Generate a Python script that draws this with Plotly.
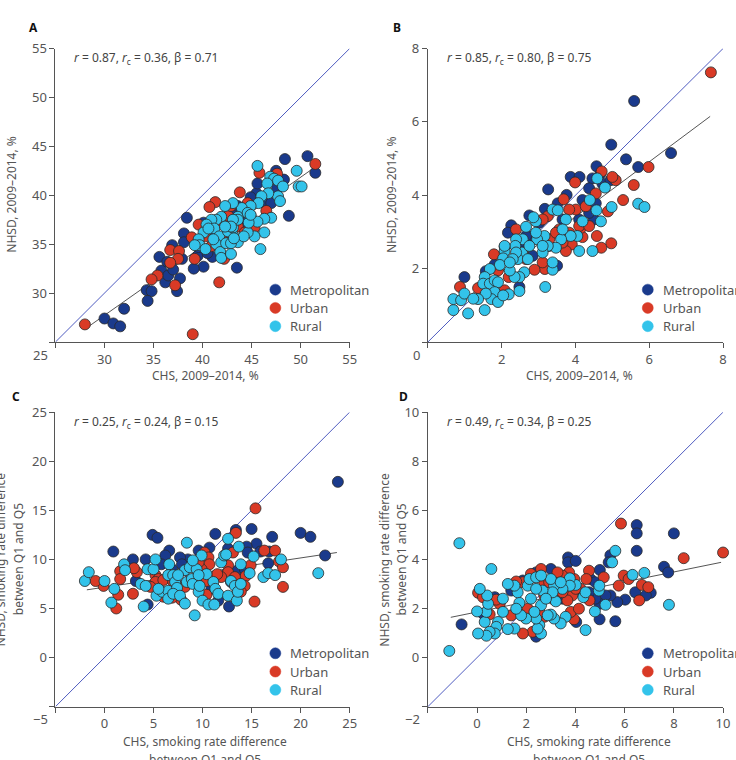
import plotly.graph_objects as go

# ---------------- Data ----------------
groups = ["Metropolitan", "Urban", "Rural"]
colors = {"Metropolitan": "#1a3a8c", "Urban": "#d93a26", "Rural": "#33c3ea"}

# Panel A: CHS vs NHSD 2009-2014 (%)
a_metro_x = [50.7,48.4,51.5,47.5,48.3,48.8,45.5,44.9,43.5,41.0,40.1,39.1,38.4,38.1,38.1,37.9,37.7,36.9,35.6,35.8,36.4,36.2,36.5,37.0,37.4,34.3,34.8,34.4,32.0,30.0,30.9,31.6,39.5,40.1,40.5,39.6,41.3,42.9,43.6,46.3,47.0,45.6,47.6,42.6,44.3]
a_metro_y = [44.0,43.7,42.3,42.5,41.6,37.9,40.2,39.8,32.6,33.7,32.7,32.5,37.7,36.1,35.2,33.5,31.5,34.9,33.7,32.3,33.2,31.1,31.8,32.4,30.2,30.3,30.2,29.2,28.4,27.4,26.9,26.6,33.8,37.2,34.1,34.7,35.8,38.2,38.9,39.2,39.2,41.2,40.7,35.4,37.2]
a_urban_x = [51.5,45.8,47.6,43.8,41.3,40.7,46.5,45.3,44.9,42.9,42.6,39.6,38.9,41.7,39.0,36.7,37.6,37.5,36.7,37.2,35.4,34.8,28.0,40.9,42.2,43.6,44.3,40.3,41.6,42.9,44.6,42.2,39.2,43.0]
a_urban_y = [43.2,42.3,42.2,40.3,39.3,38.8,38.4,36.7,37.9,37.5,37.9,37.0,35.7,31.1,25.8,34.4,34.3,33.5,33.1,30.8,31.8,31.4,26.8,34.8,35.5,36.8,36.2,35.8,37.2,38.9,39.2,33.5,33.5,35.9]
a_rural_x = [45.6,49.6,49.8,50.1,46.9,47.3,46.6,47.7,47.7,48.2,47.9,46.7,46.0,45.7,44.9,47.0,46.3,45.6,45.9,46.3,45.3,44.6,44.0,43.6,43.1,42.3,41.9,41.4,40.9,40.4,40.1,39.6,39.7,40.3,41.2,41.7,41.4,41.8,41.9,42.9,43.1,42.6,43.1,43.6,44.2,43.6,43.1,44.7,42.9,42.3,42.4,41.1,40.6,39.2,42.9,43.2,44.6,44.9]
a_rural_y = [43.0,42.5,40.9,40.9,41.9,41.7,41.2,41.5,39.9,40.9,39.4,40.2,39.9,39.2,38.9,37.7,37.6,37.3,34.5,36.2,35.8,36.2,38.7,37.8,39.2,38.9,37.8,37.5,37.5,37.0,36.2,35.5,34.9,34.5,36.6,35.8,35.0,34.2,33.6,34.0,35.9,36.3,36.7,35.2,35.8,37.5,37.5,37.2,36.8,36.8,35.1,35.5,36.6,34.9,35.1,35.6,38.2,38.0]
a_fit_x = [28.4, 51.5]
a_fit_y = [26.6, 42.9]

# Panel B
b_metro_x = [5.59,4.97,6.59,5.37,5.70,4.57,3.26,3.87,4.11,4.68,4.46,0.99,1.57,1.81,2.08,2.26,2.17,2.75,3.17,2.48,3.50,3.76,3.52,3.65,4.19,4.37,4.55,4.73,4.50,4.10,2.84,3.02,3.29,2.48,2.84,2.66,4.95,4.37]
b_metro_y = [6.57,5.38,5.15,4.98,4.77,4.79,4.16,4.50,4.50,4.59,4.46,1.77,1.93,2.11,2.60,3.18,2.98,3.45,3.63,1.50,2.08,4.01,3.78,3.34,3.87,4.19,3.78,4.32,3.34,3.34,2.89,3.25,2.62,2.62,2.35,2.89,4.41,3.52]
b_urban_x = [7.67,5.98,5.58,5.29,5.09,5.00,4.71,3.99,3.68,4.88,4.97,4.70,4.58,4.19,4.15,3.90,3.74,3.17,2.89,2.57,1.79,0.87,1.36,2.08,2.19,1.90,2.39,3.25,4.01,4.28,4.10,3.56,3.83,3.29,3.11,3.65,3.47,2.66,4.37,4.55,3.83,3.11]
b_urban_y = [7.35,4.77,4.28,3.87,4.41,4.50,4.65,4.35,3.89,3.56,2.69,2.57,2.89,2.86,3.11,2.66,2.48,1.99,1.97,2.44,2.39,1.50,1.47,1.41,1.77,1.95,3.07,3.43,3.61,3.70,3.16,3.07,2.98,2.80,2.17,2.71,2.98,2.26,3.16,4.05,3.61,3.34]
b_rural_x = [5.70,5.87,4.98,4.80,4.59,4.39,4.57,4.69,4.46,4.10,4.19,4.05,3.87,3.74,3.61,3.47,3.65,3.38,3.52,3.18,3.38,3.38,3.25,3.11,3.16,2.96,2.93,2.86,2.66,2.57,2.55,2.44,2.39,2.37,2.39,2.61,2.48,2.35,2.48,2.22,2.19,2.08,2.04,1.95,2.08,1.68,1.54,1.50,1.68,1.81,1.90,1.81,1.72,1.90,1.57,1.36,1.54,1.09,0.69,0.69,0.90,0.99,1.23,2.04,2.75,2.93,3.11,2.30,2.22,2.71]
b_rural_y = [3.77,3.68,3.68,4.21,4.46,3.87,3.59,3.29,2.48,2.48,3.29,2.89,2.89,3.34,2.80,2.57,3.07,3.61,3.59,1.50,1.97,2.17,2.62,2.44,2.89,2.80,3.29,3.40,3.14,2.80,2.44,2.26,2.80,2.62,2.44,1.90,1.77,1.77,1.39,1.95,1.30,2.48,2.28,2.10,2.62,1.99,1.77,1.59,1.59,1.68,1.63,1.36,1.17,1.09,1.32,1.17,0.87,0.78,0.87,1.17,1.14,1.32,1.18,1.27,2.62,2.98,2.62,2.26,2.17,2.26]
b_fit_x = [0.7, 7.65]
b_fit_y = [0.94, 6.15]

# Panel C
c_metro_x = [23.8,20.0,21.0,22.5,17.1,16.7,15.0,15.5,13.4,12.6,11.3,10.7,14.5,14.6,15.9,16.8,13.6,14.3,12.7,11.6,9.6,8.5,7.7,7.9,6.6,6.2,4.9,5.4,4.2,2.9,0.9,3.2,4.4,5.8,10.2,12.3,9.6,6.9,10.9,12.9]
c_metro_y = [17.9,12.7,12.3,10.4,12.3,9.6,13.1,11.6,13.0,11.1,12.6,11.2,11.3,10.7,10.8,10.8,8.9,9.0,5.2,5.8,10.9,10.0,10.2,9.5,10.9,10.4,12.5,12.2,10.0,10.0,10.8,7.8,5.4,9.5,8.0,8.4,9.0,9.0,7.0,7.7]
c_urban_x = [15.4,13.4,13.1,16.3,17.4,17.8,18.2,18.2,15.3,14.9,14.4,14.3,13.9,12.6,12.6,11.9,13.3,10.2,10.6,10.7,9.9,10.4,10.4,8.2,7.5,7.8,6.9,6.0,5.2,5.5,5.2,6.0,4.7,3.3,3.0,1.6,1.6,1.4,2.9,1.2,-0.1,-0.9,7.0,9.2,9.6,11.5]
c_urban_y = [15.2,12.7,10.7,10.9,10.9,9.8,9.2,7.2,5.7,9.4,8.3,7.3,6.7,9.4,8.7,8.2,8.2,10.7,10.2,9.5,9.0,7.8,6.4,7.2,6.3,5.9,6.1,6.2,8.4,8.0,7.7,7.9,7.2,8.7,9.1,8.8,8.0,6.4,6.5,5.0,7.3,7.8,7.7,7.7,9.7,8.5]
c_rural_x = [-2.0,-1.6,0.0,1.0,0.7,2.0,2.1,3.7,4.2,4.0,4.4,5.0,5.2,5.3,5.9,6.6,6.5,6.5,6.5,7.0,7.2,7.4,7.0,7.7,8.4,8.2,8.4,8.2,8.7,8.9,9.0,9.2,9.4,9.6,9.7,9.9,10.0,10.4,10.6,11.1,11.2,11.3,11.6,11.9,12.2,12.4,12.6,12.6,12.9,13.3,13.5,13.6,13.7,13.9,13.9,14.8,15.2,16.2,16.7,17.4,18.0,21.8,9.6,9.0,7.5,5.5]
c_rural_y = [7.8,8.7,7.8,7.0,5.6,9.5,8.9,7.5,7.3,5.2,9.0,9.0,10.0,6.3,6.7,9.5,8.4,6.8,6.0,8.4,7.7,7.1,6.5,6.3,11.7,8.9,7.7,5.5,9.2,8.0,7.5,4.3,9.0,6.7,7.3,10.4,5.8,8.5,5.4,7.7,5.4,7.0,6.5,9.7,10.4,10.5,12.1,6.3,7.8,7.3,5.8,6.7,11.3,7.5,9.5,8.6,10.3,8.2,8.6,8.4,10.0,8.6,8.4,9.9,8.4,7.0]
c_fit_x = [-1.8, 23.7]
c_fit_y = [6.9, 10.7]

# Panel D
d_metro_x = [8.0,6.49,6.49,6.49,7.60,7.77,3.70,3.70,4.01,5.42,5.35,4.99,7.06,6.86,6.43,6.02,5.70,5.62,5.42,5.22,4.98,4.98,4.81,4.55,4.61,4.34,4.03,3.00,2.40,2.40,1.86,1.39,0.72,0.24,-0.63,3.20,3.47,4.81]
d_metro_y = [5.06,5.40,5.06,4.35,3.70,3.47,4.08,3.88,3.94,4.17,3.88,3.57,2.64,2.53,2.66,2.36,2.26,1.48,2.53,2.53,2.19,1.56,2.40,2.66,3.20,2.53,1.45,3.61,0.85,3.47,3.14,2.73,2.46,1.79,1.35,3.07,2.40,3.07]
d_urban_x = [10.0,8.40,5.85,5.96,6.16,5.76,6.70,6.96,6.59,5.15,4.55,4.44,4.57,4.21,3.95,3.74,3.47,3.27,2.60,2.19,1.86,1.59,2.73,2.73,2.73,2.53,2.26,1.86,2.06,3.87,3.67,3.94,3.81,4.14,1.39,0.92,0.78,0.51,0.04,0.24,3.34,3.07,4.01,2.93,3.47]
d_urban_y = [4.28,4.05,5.46,3.34,3.20,2.93,2.96,2.87,2.33,3.27,3.54,3.20,2.33,2.80,3.20,3.47,3.34,3.47,3.61,3.41,3.07,3.10,3.07,2.53,1.66,1.86,1.05,0.98,1.99,2.53,2.33,1.56,1.86,1.99,1.72,2.19,2.36,1.76,2.64,2.46,2.66,2.40,2.80,3.07,2.66]
d_rural_x = [-0.72,0.58,-1.13,5.62,5.49,6.80,6.32,7.80,4.95,4.97,4.79,5.22,4.41,4.32,4.01,3.77,3.77,3.47,3.60,3.40,3.13,3.00,3.20,3.13,3.00,3.07,2.66,2.60,2.53,2.60,2.46,2.40,2.33,2.19,2.06,1.99,1.79,1.72,1.65,1.52,1.25,1.59,1.52,1.25,1.05,1.05,0.85,0.78,0.72,0.51,0.38,0.04,0.31,0.38,0.45,0.41,0.11,0.00,2.13,2.40,2.60,2.40,2.80,3.40,2.87,4.41]
d_rural_y = [4.66,3.61,0.27,4.35,3.88,3.45,3.37,2.15,2.73,2.93,1.88,2.15,1.12,2.46,2.96,3.23,2.93,2.80,1.66,1.39,1.59,1.75,2.29,2.93,3.20,2.66,2.73,2.13,1.32,0.98,1.18,1.59,1.86,2.40,2.93,1.59,1.72,2.23,2.66,2.93,3.00,1.99,1.18,1.16,2.40,1.86,1.45,1.25,0.98,1.05,0.89,0.98,1.45,1.86,2.19,2.53,2.80,1.88,3.20,3.27,3.34,2.80,2.40,3.07,1.72,2.66]
d_fit_x = [-1.07, 9.92]
d_fit_y = [1.64, 3.88]

stats_text = ["<i>r</i> = 0.87, <i>r</i><sub>c</sub> = 0.36, β = 0.71",
              "<i>r</i> = 0.85, <i>r</i><sub>c</sub> = 0.80, β = 0.75",
              "<i>r</i> = 0.25, <i>r</i><sub>c</sub> = 0.24, β = 0.15",
              "<i>r</i> = 0.49, <i>r</i><sub>c</sub> = 0.34, β = 0.25"]
ranges = [(25, 55), (0, 8), (-5, 25), (-2, 10)]
dticks = [5, 2, 5, 2]
panel_letters = ["A", "B", "C", "D"]

panels = [
    dict(metro=(a_metro_x, a_metro_y), urban=(a_urban_x, a_urban_y), rural=(a_rural_x, a_rural_y), fit=(a_fit_x, a_fit_y)),
    dict(metro=(b_metro_x, b_metro_y), urban=(b_urban_x, b_urban_y), rural=(b_rural_x, b_rural_y), fit=(b_fit_x, b_fit_y)),
    dict(metro=(c_metro_x, c_metro_y), urban=(c_urban_x, c_urban_y), rural=(c_rural_x, c_rural_y), fit=(c_fit_x, c_fit_y)),
    dict(metro=(d_metro_x, d_metro_y), urban=(d_urban_x, d_urban_y), rural=(d_rural_x, d_rural_y), fit=(d_fit_x, d_fit_y)),
]

# ---------------- Layout geometry ----------------
W, H = 736, 760
px_x = [(56, 353), (432, 730), (56, 353), (432, 730)]
px_y = [(40, 337), (40, 337), (408, 706), (408, 706)]
FONT = "Noto Sans"
GREY = "#555555"


def fmt(v):
    s = ("%g" % v)
    return s.replace("-", "−")


fig = go.Figure()
layout = dict(width=W, height=H, margin=dict(l=0, r=0, t=0, b=0),
              plot_bgcolor="white", paper_bgcolor="white", showlegend=False,
              font=dict(family=FONT, size=13, color=GREY))
annotations = []
shapes = []

for i, p in enumerate(panels):
    n = "" if i == 0 else str(i + 1)
    xa, ya = "x" + n, "y" + n
    lo, hi = ranges[i]
    tv = list(range(lo, hi + 1, dticks[i]))
    tt = [""] + [fmt(v) for v in tv[1:]]
    # identity line
    fig.add_trace(go.Scatter(x=[lo, hi], y=[lo, hi], mode="lines", xaxis=xa, yaxis=ya,
                             line=dict(color="#4f5cc0", width=1), hoverinfo="skip"))
    # regression line
    fig.add_trace(go.Scatter(x=p["fit"][0], y=p["fit"][1], mode="lines", xaxis=xa, yaxis=ya,
                             line=dict(color="#555555", width=1), hoverinfo="skip"))
    for key, g in zip(["metro", "urban", "rural"], groups):
        fig.add_trace(go.Scatter(x=p[key][0], y=p[key][1], mode="markers", xaxis=xa, yaxis=ya, name=g,
                                 cliponaxis=False,
                                 marker=dict(size=11, color=colors[g], line=dict(color="#2a2a2a", width=0.8))))
    common = dict(range=[lo, hi], tickmode="array", tickvals=tv, ticktext=tt,
                  showgrid=False, zeroline=False, showline=True, linecolor=GREY, linewidth=1,
                  ticks="outside", ticklen=5, tickcolor=GREY, tickfont=dict(family=FONT, size=13, color=GREY))
    layout["xaxis" + n] = dict(domain=[px_x[i][0] / W, px_x[i][1] / W], anchor=ya, **common)
    layout["yaxis" + n] = dict(domain=[1 - px_y[i][1] / H, 1 - px_y[i][0] / H], anchor=xa, **common)

    x0, x1 = px_x[i]
    y0, y1 = px_y[i]
    # shared corner tick label
    annotations.append(dict(x=(x0 - 6) / W, y=1 - (y1 + 13) / H, xref="paper", yref="paper",
                            text=fmt(lo), showarrow=False, xanchor="right", yanchor="middle",
                            font=dict(family=FONT, size=13, color=GREY)))
    # stats text
    annotations.append(dict(x=(x0 + 17) / W, y=1 - (y0 + 10) / H, xref="paper", yref="paper",
                            text=stats_text[i], showarrow=False, xanchor="left", yanchor="middle",
                            font=dict(family=FONT, size=12, color="#444444")))
    # panel letter
    lx = [27, 395, 10, 401][i]
    ly = [19, 19, 392, 392][i]
    annotations.append(dict(x=lx / W, y=1 - ly / H, xref="paper", yref="paper", text="<b>%s</b>" % panel_letters[i],
                            showarrow=False, xanchor="left", yanchor="middle",
                            font=dict(family=FONT, size=12, color="#111111")))
    # legend (manual)
    mx = x0 + 222
    for k, g in enumerate(groups):
        yy = y0 + 244 + k * 18.5
        shapes.append(dict(type="circle", xref="paper", yref="paper", xsizemode="pixel", ysizemode="pixel",
                           xanchor=mx / W, yanchor=1 - yy / H, x0=-5.5, x1=5.5, y0=-5.5, y1=5.5,
                           fillcolor=colors[g], line=dict(color=colors[g], width=0.5)))
        annotations.append(dict(x=(mx + 13) / W, y=1 - yy / H, xref="paper", yref="paper", text=g,
                                showarrow=False, xanchor="left", yanchor="middle",
                                font=dict(family=FONT, size=13, color=GREY)))


def title(x, y, text, angle=0):
    annotations.append(dict(x=x / W, y=1 - y / H, xref="paper", yref="paper", text=text, showarrow=False,
                            xanchor="center", yanchor="middle", textangle=angle,
                            font=dict(family=FONT, size=12, color=GREY)))


title(207, 371, "CHS, 2009–2014, %")
title(585, 371, "CHS, 2009–2014, %")
title(12, 188, "NHSD, 2009–2014, %", -90)
title(396, 188, "NHSD, 2009–2014, %", -90)
title(207, 741, "CHS, smoking rate difference")
title(207, 759, "between Q1 and Q5")
title(595, 741, "CHS, smoking rate difference")
title(595, 759, "between Q1 and Q5")
title(0, 557, "NHSD, smoking rate difference", -90)
title(19, 557, "between Q1 and Q5", -90)
title(388, 557, "NHSD, smoking rate difference", -90)
title(405, 557, "between Q1 and Q5", -90)

layout["annotations"] = annotations
layout["shapes"] = shapes
fig.update_layout(**layout)
fig.write_html("out.html",
               post_script="document.documentElement.style.margin='0';document.body.style.margin='0';"
                           "document.body.style.overflow='hidden';")
